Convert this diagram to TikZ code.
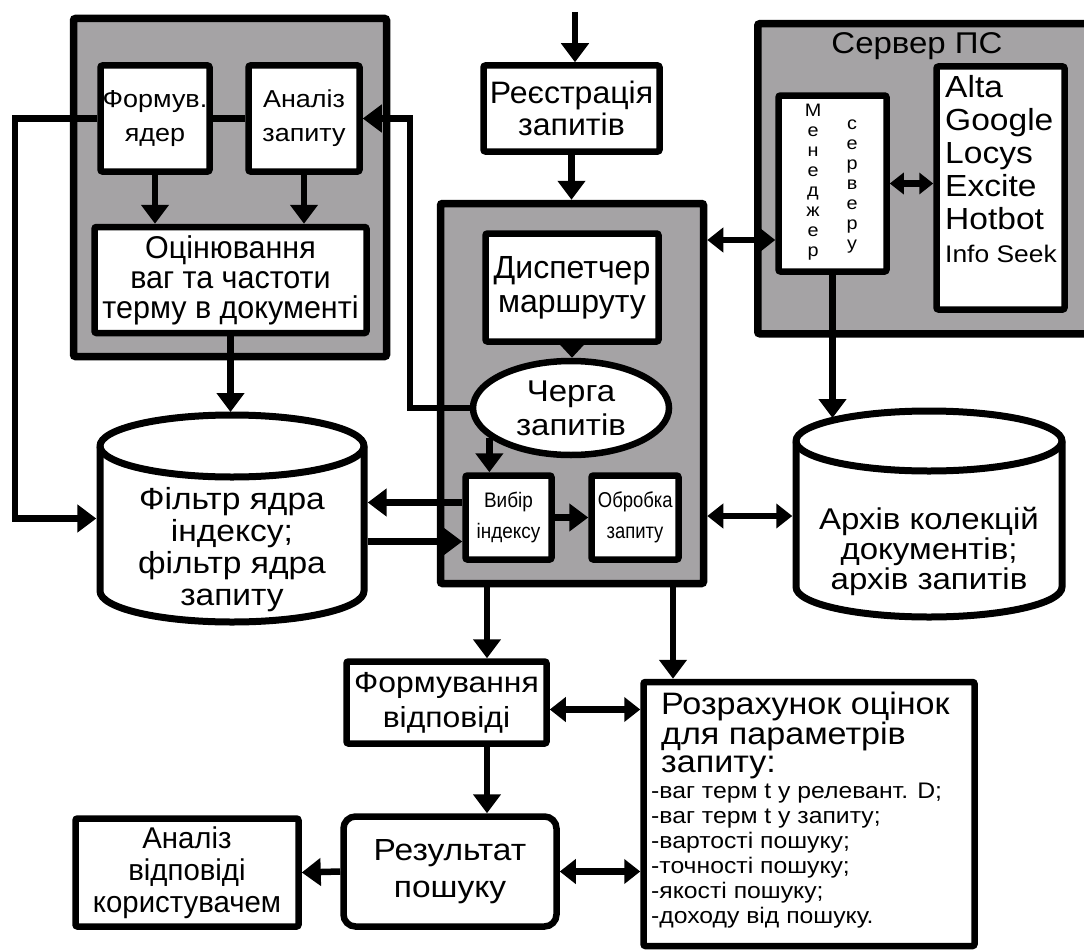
\documentclass[tikz,border=0pt]{standalone}
\usepackage{graphicx}
\usepackage{fontspec}
\setmainfont{Liberation Sans}[FakeStretch=1.1]
\usetikzlibrary{arrows.meta,shapes.geometric,calc}
\definecolor{blockgray}{RGB}{165,163,165}
\newcommand\fsz[2]{\fontsize{#1}{#2}\selectfont}
\newcommand\ml[3]{\scalebox{#1}[1]{\parbox{#2}{\centering #3}}}
\begin{document}
\begin{tikzpicture}[x=1pt,y=-1pt,
  graybox/.style={draw,fill=blockgray,line width=7.5pt,rounded corners=2pt,inner sep=0pt},
  wbox/.style={draw,fill=white,line width=6.5pt,rounded corners=2pt,inner sep=0pt,align=center},
  conn/.style={line width=6.5pt},
  arr/.style={conn,-{Triangle[length=19pt,width=27pt]}},
  arrs/.style={conn,-{Triangle[length=14pt,width=25pt]}},
  darr/.style={conn,{Triangle[length=16pt,width=24pt]}-{Triangle[length=16pt,width=24pt]}},
  sdarr/.style={conn,{Triangle[length=14pt,width=21pt]}-{Triangle[length=14pt,width=21pt]}},
  cyl/.style={draw,fill=white,line width=7pt},
  txt/.style={inner sep=0pt,align=center}]
\useasboundingbox (0,0) rectangle (1084,950);

% top-left block
\node[graybox,minimum width=313pt,minimum height=338pt] (gb1) at (230,187.5) {};
\node[wbox,minimum width=109pt,minimum height=106pt,font=\fsz{24.5}{34}] (form) at (155,118.5) {Формув.\\ядер};
\node[wbox,minimum width=111pt,minimum height=106pt,font=\fsz{24.5}{34}] (anal) at (304,118.5) {Аналіз\\запиту};
\node[wbox,minimum width=272pt,minimum height=106pt,font=\fsz{31.5}{30}] (ocin) at (230.5,280) {\ml{0.88}{300pt}{Оцінювання\\ваг та частоти\\терму в документі}};

% registration
\node[wbox,minimum width=176pt,minimum height=86pt,font=\fsz{31}{32}] (reg) at (571.5,108.5) {\ml{0.94}{180pt}{Реєстрація\\запитів}};

% central block
\node[graybox,minimum width=263pt,minimum height=380pt] (cen) at (572,393.5) {};
\node[wbox,minimum width=173pt,minimum height=108pt,font=\fsz{32}{34}] (disp) at (572,287.5) {\ml{0.91}{180pt}{Диспетчер\\маршруту}};
\node[wbox,ellipse,minimum width=196pt,minimum height=94pt,font=\fsz{30}{34}] (cherga) at (571,408) {Черга\\запитів};
\node[wbox,minimum width=86pt,minimum height=84pt,font=\fsz{21}{31}] (vyb) at (508.5,517.5) {\ml{0.82}{95pt}{Вибір\\індексу}};
\node[wbox,minimum width=87pt,minimum height=84pt,font=\fsz{21.5}{31}] (obr) at (635,517.5) {\ml{0.78}{95pt}{Обробка\\запиту}};

% server block
\node[graybox,minimum width=344pt,minimum height=310pt,anchor=north west] (srv) at (754,20) {};
\node[txt,font=\fsz{30}{30},anchor=base] (srvt) at (917,53) {Сервер ПС};
\node[wbox,minimum width=108pt,minimum height=176pt] (man) at (832.5,183.5) {};
\node[txt,font=\fsz{18}{20}] (manl) at (813,182) {М\\е\\н\\е\\д\\ж\\е\\р};
\node[txt,font=\fsz{18}{20}] (manr) at (852,187) {с\\е\\р\\в\\е\\р\\у};
\node[wbox,minimum width=128pt,minimum height=243pt] (eng) at (1000.5,188) {};
\node[txt,align=left,anchor=north west,font=\fsz{30.5}{33}] (engt) at (945,75) {Alta\\Google\\Locys\\Excite\\Hotbot};
\node[txt,anchor=base west,font=\fsz{24}{24}] (engs) at (945,262) {Info Seek};

% filter cylinder
\draw[cyl] (100,446) -- (100,591) arc[start angle=180,end angle=0,x radius=132,y radius=31] -- (364,446) arc[start angle=0,end angle=-180,x radius=132,y radius=31] -- cycle;
\draw[line width=7pt] (100,446) arc[start angle=180,end angle=0,x radius=132,y radius=31];
\node[minimum width=271pt,minimum height=145pt,inner sep=0pt] (fil) at (232,518.5) {};
\node[txt,font=\fsz{30.5}{32}] (filt) at (232,550) {Фільтр ядра\\індексу;\\фільтр ядра\\запиту};
\coordinate (filtop) at (232,412);

% archive cylinder
\draw[cyl] (796,441) -- (796,587) arc[start angle=180,end angle=0,x radius=133,y radius=30] -- (1062,441) arc[start angle=0,end angle=-180,x radius=133,y radius=30] -- cycle;
\draw[line width=7pt] (796,441) arc[start angle=180,end angle=0,x radius=133,y radius=30];
\node[minimum width=273pt,minimum height=146pt,inner sep=0pt] (arc) at (929,516) {};
\node[txt,font=\fsz{30}{30}] (arct) at (929,551) {Архів колекцій\\документів;\\архів запитів};
\coordinate (arctip) at (832.5,418);

% bottom
\node[wbox,minimum width=200pt,minimum height=82pt,font=\fsz{29}{35}] (form2) at (446.5,702.5) {Формування\\відповіді};
\node[wbox,rounded corners=12pt,minimum width=213pt,minimum height=110pt,font=\fsz{30.5}{37}] (res) at (450,871.5) {Результат\\пошуку};
\node[wbox,minimum width=223pt,minimum height=108pt,font=\fsz{30}{32}] (an2) at (187,872.5) {\ml{0.89}{230pt}{Аналіз\\відповіді\\користувачем}};
\node[wbox,minimum width=331pt,minimum height=264pt] (roz) at (809,814) {};
\node[txt,align=left,anchor=north west,font=\fsz{31}{28}] (rozh) at (661,692) {Розрахунок оцінок\\для параметрів\\запиту:};
\node[txt,align=left,anchor=north west,font=\fsz{22.5}{25}] (rozl) at (651,783) {-ваг терм t у релевант. D;\\-ваг терм t у запиту;\\-вартості пошуку;\\-точності пошуку;\\-якості пошуку;\\-доходу від пошуку.};

% connectors
\coordinate (lft) at (15,518.5);
\coordinate (k1) at (410,0);
\coordinate (top0) at (575,12);
\coordinate (c1) at (487,0);
\coordinate (c2) at (673,0);
\coordinate (v1) at ([yshift=15pt]vyb.west);
\coordinate (v2) at ([yshift=-24pt]vyb.west);
\coordinate (m1) at ([yshift=-56.5pt]man.west);
\coordinate (f1) at ([yshift=-7pt]form2.east);

\draw[conn] (anal.west) -- (form.east);
\draw[arr] (form.west) -| (lft) -- (fil.west);
\draw[arr] (form.south) -- (form.south |- ocin.north);
\draw[arr] (anal.south) -- (anal.south |- ocin.north);
\draw[arr] (ocin.south) -- (ocin.south |- filtop);
\draw[arr] (top0) -- (top0 |- reg.north);
\draw[arr] (reg.south) -- (reg.south |- cen.north);
\draw[arrs] (disp.south) -- (disp.south |- cherga.north);
\draw[arr] (cherga.west) -- (cherga.west -| k1) |- (anal.east);
\draw[arr] (cherga.200) -- (cherga.200 |- vyb.north);
\draw[arr] (vyb.east) -- (obr.west);
\draw[arr] (v1) -- (v1 -| fil.east);
\draw[arr] (v2 -| fil.east) -- (v2);
\draw[darr] (m1 -| cen.east) -- (m1);
\draw[sdarr] (man.east) -- (man.east -| eng.west);
\draw[arr] (man.south) -- (arctip);
\draw[darr] (arc.west -| cen.east) -- (arc.west);
\draw[arr] (cen.south -| c1) -- (form2.north -| c1);
\draw[arr] (cen.south -| c2) -- (roz.north -| c2);
\draw[darr] (f1) -- (f1 -| roz.west);
\draw[arr] (form2.south -| c1) -- (res.north -| c1);
\draw[darr] (res.east) -- (res.east -| roz.west);
\draw[arr] (res.west) -- (an2.east);
\end{tikzpicture}
\end{document}
